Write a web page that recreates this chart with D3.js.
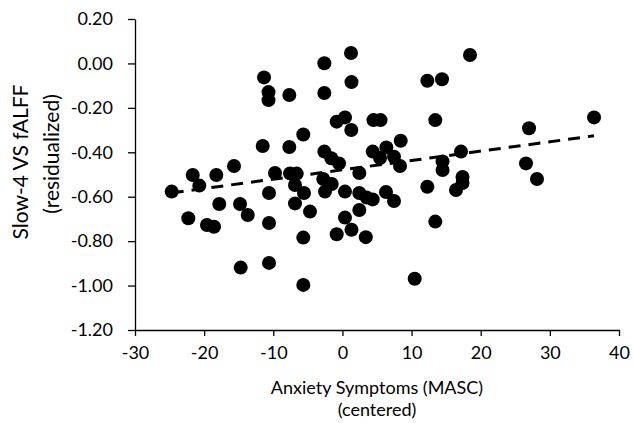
<!DOCTYPE html>
<html>
<head>
<meta charset="utf-8">
<script src="https://cdn.jsdelivr.net/npm/d3@7"></script>
<style>
  body { margin: 0; background: #fff; }
  #chart text { font-family: Lato, "Liberation Sans", sans-serif; fill: #000; }
</style>
</head>
<body>
<div id="chart"></div>
<script>
// MASC anxiety (centered) vs slow-4 fALFF (residualized)
const xValues = [
  1.24, 18.45, -2.62, -11.34, 1.31, 12.28, 14.40, -10.69, -10.69, -7.68,
  -2.62, -5.66, -11.53, -7.68, -0.83, 0.37, 1.28, 4.49, 5.51, 13.43,
  8.43, -2.62, -1.61, -0.49, 2.44, 4.38, 6.35, 7.46, 5.44, 8.33,
  14.48, 14.48, 17.15, -2.77, -9.75, -7.58, -6.61, -21.65, -18.24, -15.68,
  26.99, 36.39, 26.55, 28.14, 17.37, -24.69, -20.70, -17.81, -22.29, -19.59,
  -18.57, -14.81, -13.69, -10.62, -10.62, -14.71, -10.62, -5.66, -5.66, -6.86,
  -6.86, -5.56, -4.69, -2.52, -1.55, 0.37, 2.44, 3.51, 4.38, 6.30,
  7.46, 12.28, 16.43, 2.44, 0.37, 1.31, -0.83, 3.38, 13.43, 10.45,
  17.37
];
const yValues = [
  0.047, 0.038, 0.001, -0.063, -0.084, -0.078, -0.071, -0.129, -0.165, -0.142,
  -0.133, -0.320, -0.372, -0.376, -0.262, -0.243, -0.300, -0.255, -0.255, -0.255,
  -0.348, -0.397, -0.427, -0.450, -0.493, -0.397, -0.378, -0.420, -0.426, -0.462,
  -0.441, -0.480, -0.397, -0.520, -0.493, -0.495, -0.496, -0.502, -0.502, -0.462,
  -0.292, -0.243, -0.450, -0.520, -0.511, -0.577, -0.550, -0.633, -0.697, -0.727,
  -0.735, -0.633, -0.682, -0.583, -0.718, -0.919, -0.898, -0.784, -0.997, -0.547,
  -0.630, -0.583, -0.667, -0.577, -0.543, -0.577, -0.583, -0.604, -0.612, -0.579,
  -0.619, -0.555, -0.570, -0.660, -0.694, -0.749, -0.769, -0.782, -0.712, -0.969,
  -0.538
];
// linear trendline
const trendSlope = 0.00421;
const trendIntercept = -0.479;

const xTicks = [-30, -20, -10, 0, 10, 20, 30, 40];
const yTicks = [0.2, 0, -0.2, -0.4, -0.6, -0.8, -1.0, -1.2];

const width = 633;
const height = 423;
const margin = { top: 19, right: 14, bottom: 93, left: 135 };

// plain hyphen for negatives, like the original
const fmtX = d => String(d);
const fmtY = d => d.toFixed(2);

const svg = d3.select("#chart")
  .append("svg")
  .attr("width", width)
  .attr("height", height);

const x = d3.scaleLinear().domain([-30, 40]).range([margin.left, width - margin.right]);
const y = d3.scaleLinear().domain([-1.2, 0.2]).range([height - margin.bottom, margin.top]);

// axes
const xAxis = svg.append("g")
  .attr("transform", `translate(0,${height - margin.bottom})`)
  .call(d3.axisBottom(x).tickValues(xTicks).tickFormat(fmtX)
    .tickSize(6).tickSizeOuter(0).tickPadding(10));

const yAxis = svg.append("g")
  .attr("transform", `translate(${margin.left},0)`)
  .call(d3.axisLeft(y).tickValues(yTicks).tickFormat(fmtY)
    .tickSize(7).tickSizeOuter(0).tickPadding(15));

[xAxis, yAxis].forEach(g => {
  g.select(".domain").attr("stroke", "#000").attr("stroke-width", 1.3);
  g.selectAll(".tick line").attr("stroke", "#000").attr("stroke-width", 1.3);
  g.selectAll(".tick text").style("font-size", "18px");
});

// points
const points = xValues.map((v, i) => ({ x: v, y: yValues[i] }));

svg.append("g")
  .selectAll("circle")
  .data(points)
  .join("circle")
  .attr("cx", d => x(d.x))
  .attr("cy", d => y(d.y))
  .attr("r", 7)
  .attr("fill", "#000");

// dashed trend line over the data range
const xExtent = d3.extent(xValues);
svg.append("line")
  .attr("x1", x(xExtent[0]))
  .attr("y1", y(trendIntercept + trendSlope * xExtent[0]))
  .attr("x2", x(xExtent[1]))
  .attr("y2", y(trendIntercept + trendSlope * xExtent[1]))
  .attr("stroke", "#000")
  .attr("stroke-width", 3)
  .attr("stroke-dasharray", "12,8");

// axis titles
svg.append("text")
  .attr("x", (margin.left + width - margin.right) / 2)
  .attr("y", 394)
  .attr("text-anchor", "middle")
  .style("font-size", "18px")
  .text("Anxiety Symptoms (MASC)");

svg.append("text")
  .attr("x", (margin.left + width - margin.right) / 2)
  .attr("y", 416)
  .attr("text-anchor", "middle")
  .style("font-size", "18px")
  .text("(centered)");

svg.append("text")
  .attr("transform", "translate(28,162) rotate(-90)")
  .attr("text-anchor", "middle")
  .style("font-size", "21px")
  .text("Slow-4 VS fALFF");

svg.append("text")
  .attr("transform", "translate(59,154) rotate(-90)")
  .attr("text-anchor", "middle")
  .style("font-size", "21px")
  .text("(residualized)");
</script>
</body>
</html>
